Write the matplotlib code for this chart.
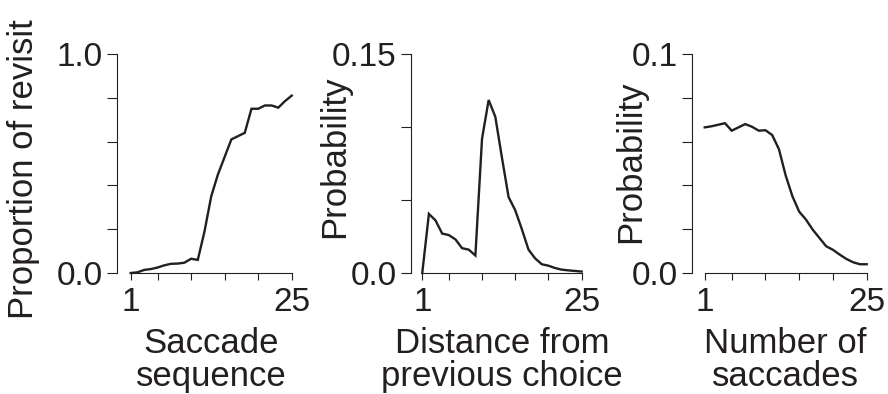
import numpy as np
import matplotlib
matplotlib.use('Agg')
import matplotlib.pyplot as plt
import matplotlib.transforms as mtransforms

# values, x = 1..25
x = np.arange(1, 26)

revisit = [0.0, 0.003, 0.014, 0.018, 0.025, 0.035, 0.042, 0.043, 0.047, 0.065,
           0.06, 0.19, 0.35, 0.45, 0.53, 0.61, 0.625, 0.64, 0.75, 0.75,
           0.765, 0.765, 0.755, 0.785, 0.81]

distance_prob = [0.0, 0.0405, 0.036, 0.027, 0.026, 0.023, 0.017, 0.016, 0.012, 0.092,
                 0.1185, 0.107, 0.079, 0.052, 0.043, 0.030, 0.016, 0.010, 0.006, 0.005,
                 0.0034, 0.0023, 0.0018, 0.0014, 0.001]

nsacc_prob = [0.0665, 0.067, 0.0677, 0.0684, 0.065, 0.0665, 0.068, 0.0668, 0.065, 0.0652,
              0.063, 0.0565, 0.0445, 0.035, 0.028, 0.0244, 0.0198, 0.016, 0.0122, 0.0106,
              0.0084, 0.0064, 0.0049, 0.004, 0.004]

xticks = [1, 5, 10, 15, 20, 25]
xticklabels = ['1', '', '', '', '', '25']

panels = [
    dict(y=revisit, ymax=1.0, yticks=[0, 0.2, 0.4, 0.6, 0.8, 1.0],
         yticklabels=['0.0', '', '', '', '', '1.0'],
         ylabel='Proportion of revisit', xlabel='Saccade\nsequence',
         rect=[0.1318, 0.3071, 0.1967, 0.5558], xmin=-1.04,
         ylabel_pos=(-0.441, 0.475)),
    dict(y=distance_prob, ymax=0.15, yticks=[0, 0.05, 0.10, 0.15],
         yticklabels=['0.0', '', '', '0.15'],
         ylabel='Probability', xlabel='Distance from\nprevious choice',
         rect=[0.4628, 0.3071, 0.1922, 0.5558], xmin=-0.7,
         ylabel_pos=(-0.351, 0.53)),
    dict(y=nsacc_prob, ymax=0.1, yticks=[0, 0.02, 0.04, 0.06, 0.08, 0.1],
         yticklabels=['0.0', '', '', '', '', '0.1'],
         ylabel='Probability', xlabel='Number of\nsaccades',
         rect=[0.7793, 0.3071, 0.1967, 0.5558], xmin=-0.88,
         ylabel_pos=(-0.255, 0.51)),
]

ink = '#231f20'
plt.rcParams['font.family'] = ['Liberation Sans', 'DejaVu Sans']

fig = plt.figure(figsize=(8.88, 3.94), dpi=100)

for p in panels:
    ax = fig.add_axes(p['rect'])
    ax.plot(x, p['y'], color=ink, lw=1.7, clip_on=False, solid_joinstyle='miter')
    ax.set_xlim(p['xmin'], 25)
    ax.set_ylim(0, p['ymax'])
    for s in ['top', 'right']:
        ax.spines[s].set_visible(False)
    ax.spines['left'].set_bounds(0, p['ymax'])
    ax.spines['bottom'].set_bounds(1, 25)
    for s in ['left', 'bottom']:
        ax.spines[s].set_color(ink)
        ax.spines[s].set_linewidth(0.8)
    ax.set_xticks(xticks)
    ax.set_xticklabels(xticklabels)
    ax.set_yticks(p['yticks'])
    ax.set_yticklabels(p['yticklabels'])
    ax.tick_params(axis='y', length=7.5, width=0.8, color=ink, labelcolor=ink,
                   labelsize=24, pad=3)
    ax.tick_params(axis='x', length=5.2, width=0.8, color=ink, labelcolor=ink,
                   labelsize=24, pad=5)
    ax.set_ylabel(p['ylabel'], fontsize=25, color=ink)
    ax.yaxis.set_label_coords(*p['ylabel_pos'])
    ax.set_xlabel(p['xlabel'], fontsize=25, color=ink, linespacing=1.0)
    blend = mtransforms.blended_transform_factory(ax.transData, ax.transAxes)
    ax.xaxis.set_label_coords(13, -0.245, transform=blend)

fig.savefig('out.png', dpi=100)
